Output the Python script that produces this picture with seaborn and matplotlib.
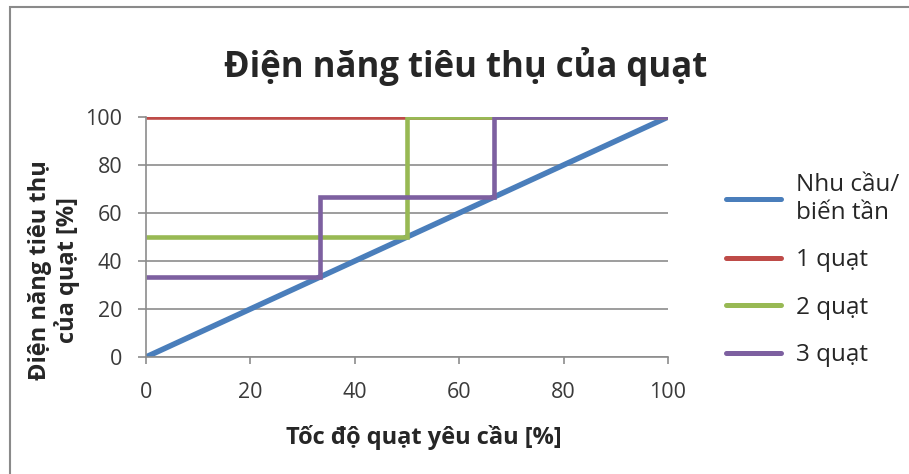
import matplotlib
matplotlib.use("Agg")
import matplotlib.pyplot as plt
import matplotlib.patches as mpatches
import seaborn as sns
import pandas as pd

# Series: required fan speed (%) vs. fan power consumption (%)
series_names = ["Nhu cầu/\nbiến tần", "1 quạt", "2 quạt", "3 quạt"]
demand_x = [0, 100]
demand_y = [0, 100]
one_fan_x = [0, 100]
one_fan_y = [100, 100]
two_fan_x = [0, 50, 50, 100]
two_fan_y = [50, 50, 100, 100]
three_fan_x = [0, 33.3, 33.3, 66.7, 66.7, 100]
three_fan_y = [33.3, 33.3, 66.7, 66.7, 100, 100]
x_ticks = [0, 20, 40, 60, 80, 100]
y_ticks = [0, 20, 40, 60, 80, 100]
colors = ["#4A7EBB", "#BE4B48", "#98B954", "#7D60A0"]
widths = [4.0, 3.3, 3.3, 3.3]

frames = []
for name, xs, ys in zip(series_names,
                        [demand_x, one_fan_x, two_fan_x, three_fan_x],
                        [demand_y, one_fan_y, two_fan_y, three_fan_y]):
    frames.append(pd.DataFrame({"x": xs, "y": ys, "series": name}))
df = pd.concat(frames, ignore_index=True)

sns.set_theme(style="white")
plt.rcParams["font.family"] = ["Open Sans", "Noto Sans", "DejaVu Sans"]

W, H = 909, 474
fig = plt.figure(figsize=(W / 100, H / 100), dpi=100)
ax = fig.add_axes([146 / W, 117 / H, 522 / W, 240 / H])

sns.lineplot(data=df, x="x", y="y", hue="series", hue_order=series_names,
             palette=colors, sort=False, estimator=None, linewidth=3.3,
             legend=False, ax=ax)
for line, lw in zip(ax.lines, widths):
    line.set_linewidth(lw)
    line.set_solid_joinstyle("miter")
    line.set_solid_capstyle("butt")

ax.set_xlim(0, 100)
ax.set_ylim(0, 100)
ax.set_xticks(x_ticks)
ax.set_yticks(y_ticks)
ax.yaxis.grid(True, color="#8C8C8C", linewidth=1.2)
ax.xaxis.grid(False)
ax.set_axisbelow(True)
for side in ["top", "right"]:
    ax.spines[side].set_visible(False)
for side in ["left", "bottom"]:
    ax.spines[side].set_color("#8C8C8C")
    ax.spines[side].set_linewidth(1.2)
ax.tick_params(axis="y", direction="out", length=6, width=1.2, color="#8C8C8C",
               pad=11, labelsize=15.5, labelcolor="#3A3A3A", left=True)
ax.tick_params(axis="x", direction="out", length=5, width=1.2, color="#8C8C8C",
               pad=13, labelsize=15.5, labelcolor="#3A3A3A", bottom=True)
ax.set_xlabel("")
ax.set_ylabel("")

# Chart title and axis titles
fig.text(466 / W, 1 - 77 / H, "Điện năng tiêu thụ của quạt",
         ha="center", va="baseline", fontsize=25, fontweight="bold")
fig.text(424 / W, 1 - 437 / H, "Tốc độ quạt yêu cầu [%]",
         ha="center", va="center", fontsize=17, fontweight="bold")
fig.text(54 / W, 1 - 270 / H, "Điện năng tiêu thụ\ncủa quạt [%]",
         ha="center", va="center", rotation=90, fontsize=17,
         fontweight="bold", linespacing=1.15, multialignment="center")

leg = ax.legend(ax.lines, series_names, loc="upper left",
                bbox_to_anchor=(726 / W, 1 - 173 / H),
                bbox_transform=fig.transFigure, frameon=False, fontsize=17.5,
                borderpad=0, borderaxespad=0,
                handlelength=2.26, handletextpad=0.62, labelspacing=0.97)
for h in leg.get_lines():
    h.set_linewidth(3.6)
    h.set_solid_capstyle("round")

fig.patches.append(mpatches.Rectangle((10 / W, -0.1), 1.2, 1.1 - 7 / H,
                                      transform=fig.transFigure, fill=False,
                                      edgecolor="#8A8A8A", linewidth=1.5))

fig.savefig("out.png", dpi=100)
